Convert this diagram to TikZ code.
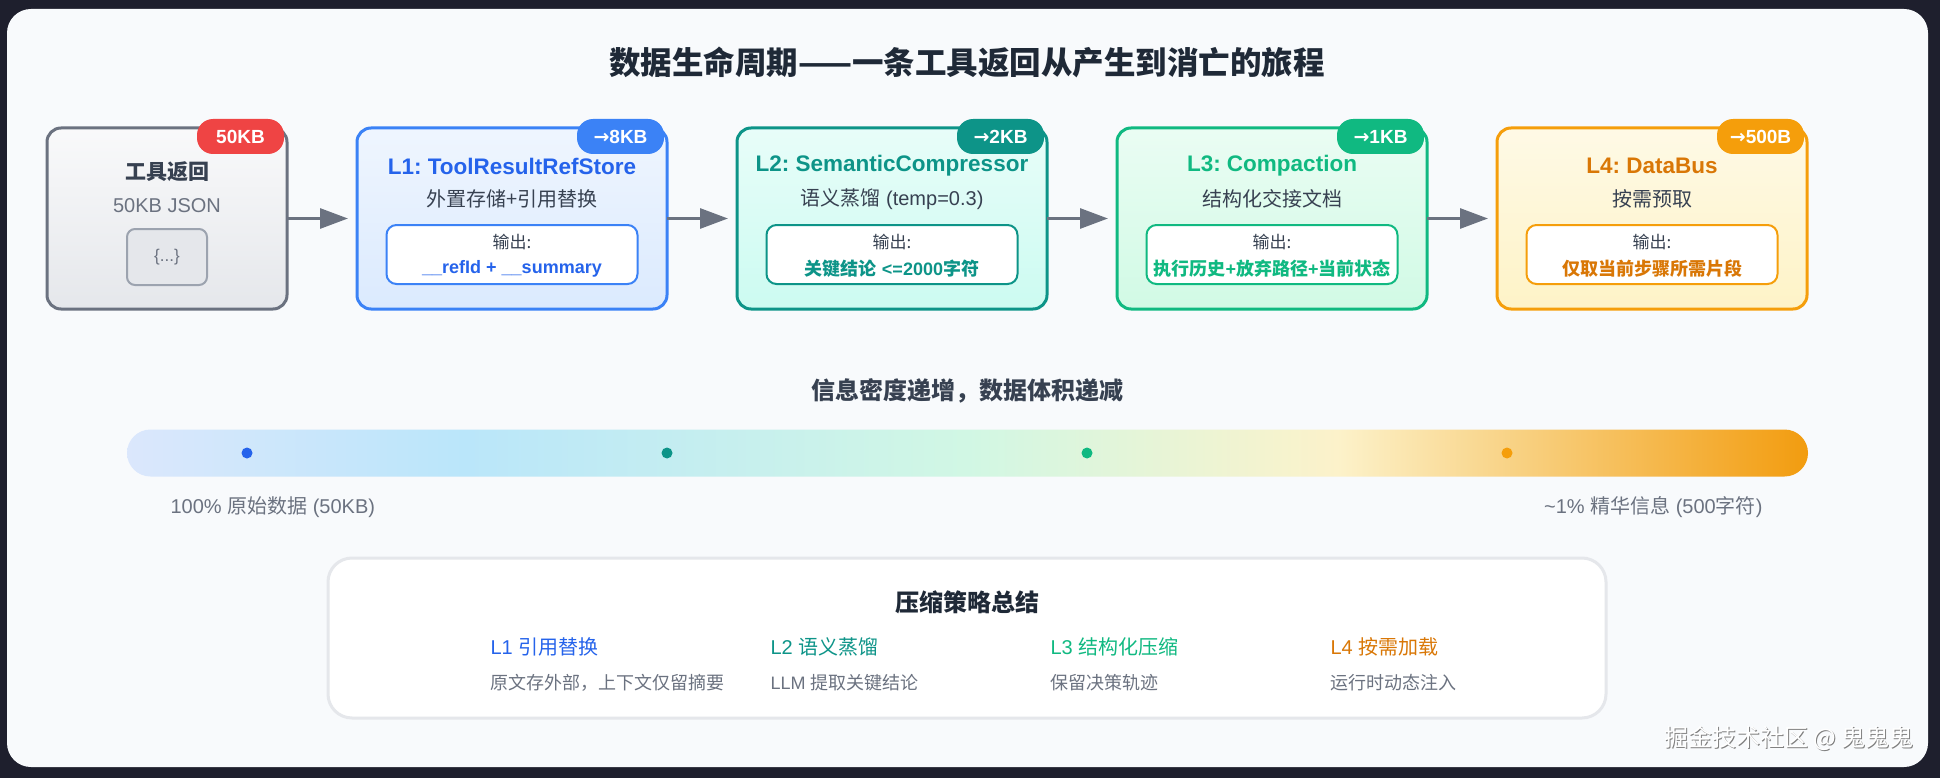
\documentclass[tikz,border=0pt]{standalone}
\usepackage{fontspec}
\setmainfont{Liberation Sans}
\newfontfamily\cjk{Noto Sans CJK SC}
\newfontfamily\arrowfont{DejaVu Sans}
\usetikzlibrary{arrows.meta}
\frenchspacing
\definecolor{bgdark}{HTML}{1E1F2D}
\definecolor{panel}{HTML}{F8FAFC}
\definecolor{gray5}{HTML}{6B7280}
\definecolor{gray7}{HTML}{374151}
\definecolor{gray8}{HTML}{1F2937}
\definecolor{gray4}{HTML}{9CA3AF}
\definecolor{gray2}{HTML}{E5E7EB}
\definecolor{gray1}{HTML}{F3F4F6}
\definecolor{blueA}{HTML}{3B82F6}
\definecolor{blueT}{HTML}{2563EB}
\definecolor{blueL}{HTML}{DBEAFE}
\definecolor{tealA}{HTML}{0D9488}
\definecolor{tealL}{HTML}{CCFBF1}
\definecolor{greenA}{HTML}{10B981}
\definecolor{greenL}{HTML}{D1FAE5}
\definecolor{orangeA}{HTML}{F59E0B}
\definecolor{orangeT}{HTML}{D97706}
\definecolor{orangeL}{HTML}{FEF3C7}
\definecolor{redA}{HTML}{EF4444}
\definecolor{barA}{HTML}{DBE7FC}
\definecolor{barB}{HTML}{BAE6FA}
\definecolor{barC}{HTML}{D1F7E4}
\definecolor{barD}{HTML}{FCF2CA}
\definecolor{barE}{HTML}{F29C0F}
\pgfdeclarehorizontalshading{infobar}{100bp}{color(0bp)=(barA); color(25bp)=(barA); color(35bp)=(barB); color(50bp)=(barC); color(61bp)=(barD); color(75bp)=(barE); color(100bp)=(barE)}
\newcommand{\sz}[1]{\fontsize{#1}{#1}\selectfont}
\newcommand{\arr}{{\arrowfont\bfseries →}}
\newcommand{\zh}[1]{{\cjk #1}}
\begin{document}
\begin{tikzpicture}[x=1pt,y=-1pt,
  stage/.style={rectangle, rounded corners=14pt, line width=3pt, minimum width=310pt, minimum height=181pt, inner sep=0pt, outer sep=0pt},
  badge/.style={rectangle, rounded corners=16pt, minimum width=87pt, minimum height=35pt, inner sep=0pt, text=white, font=\sz{19}\bfseries},
  ttl/.style={font=\sz{22.5}\bfseries},
  sub/.style={font=\sz{20}, text=gray7},
  outbox/.style={rectangle, rounded corners=10pt, line width=2pt, fill=white, minimum width=251pt, minimum height=59pt, inner sep=0pt},
  outlab/.style={font=\sz{17}\cjk, text=gray7},
  outval/.style={font=\sz{18}\bfseries},
  conn/.style={draw=gray5, line width=3pt, -{Triangle[length=28pt,width=20pt]}, shorten >=9pt},
  dot/.style={circle, minimum size=11pt, inner sep=0pt},
  barlab/.style={font=\sz{20}, text=gray5},
  colhead/.style={font=\sz{20}, anchor=west},
  coldesc/.style={font=\sz{18}, text=gray5, anchor=west},
  wm/.style={font=\sz{24}\cjk, anchor=east}
]
\useasboundingbox (0,0) rectangle (1940,778);
\fill[bgdark] (0,0) rectangle (1940,778);
\fill[panel, rounded corners=24pt] (7,9) rectangle (1928,767);

% title
\node[font=\sz{31.5}\cjk\bfseries, text=gray8] (title) at (967,62) {数据生命周期——一条工具返回从产生到消亡的旅程};

% stage 0
\node[stage, minimum width=240pt, draw=gray5, top color=gray1!50!white, bottom color=gray2] (b0) at (167,218.5) {};
\node[badge, fill=redA] (g0) at (240.5,136.5) {50KB};
\node[font=\sz{21}\cjk\bfseries, text=gray7] (t0) at (167,172) {工具返回};
\node[sub, text=gray5] (s0) at (167,206) {50KB JSON};
\node[rectangle, rounded corners=8pt, line width=2pt, draw=gray4, fill=gray2, minimum width=80pt, minimum height=56pt, inner sep=0pt, font=\sz{17}, text=gray5] (j0) at (167,257) {\{...\}};

% stage 1
\node[stage, draw=blueA, top color=blueL!45!white, bottom color=blueL] (b1) at (512,218.5) {};
\node[badge, fill=blueA] (g1) at (620.5,136.5) {\arr8KB};
\node[ttl, text=blueT] (t1) at (512,166) {L1: ToolResultRefStore};
\node[sub] (s1) at (512,199) {\zh{外置存储+引用替换}};
\node[outbox, draw=blueA] (o1) at (512,254.5) {};
\node[outlab] (l1) at (512,242) {输出:};
\node[outval, text=blueT] (v1) at (512,269) {\_\_refId + \_\_summary};

% stage 2
\node[stage, draw=tealA, top color=tealL!45!white, bottom color=tealL] (b2) at (892,218.5) {};
\node[badge, fill=tealA] (g2) at (1000.5,136.5) {\arr2KB};
\node[ttl, text=tealA] (t2) at (892,166) {L2: SemanticCompressor};
\node[sub] (s2) at (892,199) {\zh{语义蒸馏} (temp=0.3)};
\node[outbox, draw=tealA] (o2) at (892,254.5) {};
\node[outlab] (l2) at (892,242) {输出:};
\node[outval, text=tealA] (v2) at (892,269) {\zh{关键结论} <=2000\zh{字符}};

% stage 3
\node[stage, draw=greenA, top color=greenL!45!white, bottom color=greenL] (b3) at (1272,218.5) {};
\node[badge, fill=greenA] (g3) at (1380.5,136.5) {\arr1KB};
\node[ttl, text=greenA] (t3) at (1272,166) {L3: Compaction};
\node[sub] (s3) at (1272,199) {\zh{结构化交接文档}};
\node[outbox, draw=greenA] (o3) at (1272,254.5) {};
\node[outlab] (l3) at (1272,242) {输出:};
\node[outval, text=greenA] (v3) at (1272,269) {\zh{执行历史}+\zh{放弃路径}+\zh{当前状态}};

% stage 4
\node[stage, draw=orangeA, top color=orangeL!45!white, bottom color=orangeL] (b4) at (1652,218.5) {};
\node[badge, fill=orangeA] (g4) at (1760.5,136.5) {\arr500B};
\node[ttl, text=orangeT] (t4) at (1652,166) {L4: DataBus};
\node[sub] (s4) at (1652,199) {\zh{按需预取}};
\node[outbox, draw=orangeA] (o4) at (1652,254.5) {};
\node[outlab] (l4) at (1652,242) {输出:};
\node[outval, text=orangeT] (v4) at (1652,269) {\zh{仅取当前步骤所需片段}};

% connectors
\draw[conn] (b0.east) -- (b1.west);
\draw[conn] (b1.east) -- (b2.west);
\draw[conn] (b2.east) -- (b3.west);
\draw[conn] (b3.east) -- (b4.west);

% density bar
\node[font=\sz{24}\cjk\bfseries, text=gray7] (dh) at (967,391) {信息密度递增，数据体积递减};
\node[rectangle, rounded corners=23.5pt, minimum width=1681pt, minimum height=47pt, inner sep=0pt, shading=infobar] (bar) at (967.5,453) {};
\node[dot, fill=blueT] (d1) at (247,453) {};
\node[dot, fill=tealA] (d2) at (667,453) {};
\node[dot, fill=greenA] (d3) at (1087,453) {};
\node[dot, fill=orangeA] (d4) at (1507,453) {};
\node[barlab, anchor=west] (bl) at (167,507) {100\% \zh{原始数据} (50KB)};
\node[barlab, anchor=east] (br) at (1766,507) {\textasciitilde1\% \zh{精华信息} (500\zh{字符})};

% summary
\node[rectangle, rounded corners=24pt, line width=3pt, draw=gray2, fill=white, minimum width=1278pt, minimum height=160pt, inner sep=0pt] (sum) at (967,638) {};
\node[font=\sz{24}\cjk\bfseries, text=gray8] (sh) at (967,602) {压缩策略总结};
\node[colhead, text=blueT] (c1) at (487,647) {L1 \zh{引用替换}};
\node[colhead, text=tealA] (c2) at (767,647) {L2 \zh{语义蒸馏}};
\node[colhead, text=greenA] (c3) at (1047,647) {L3 \zh{结构化压缩}};
\node[colhead, text=orangeT] (c4) at (1327,647) {L4 \zh{按需加载}};
\node[coldesc] (e1) at (487,683) {\zh{原文存外部，上下文仅留摘要}};
\node[coldesc] (e2) at (767,683) {LLM \zh{提取关键结论}};
\node[coldesc] (e3) at (1047,683) {\zh{保留决策轨迹}};
\node[coldesc] (e4) at (1327,683) {\zh{运行时动态注入}};

% watermark
\node[wm, text=black!50] (wms) at (1918.5,739.5) {掘金技术社区 @ 鬼鬼鬼};
\node[wm, text=white] (wmt) at (1917,738) {掘金技术社区 @ 鬼鬼鬼};
\end{tikzpicture}
\end{document}
